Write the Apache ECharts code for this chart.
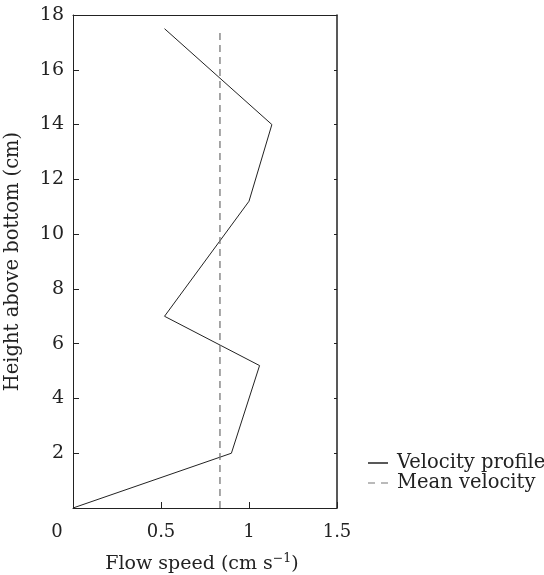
<!DOCTYPE html>
<html>
<head>
<meta charset="utf-8">
<script src="https://cdn.jsdelivr.net/npm/echarts@6/dist/echarts.min.js"></script>
<style>html,body{margin:0;padding:0;background:#fff;}#c{width:544px;height:575px;}</style>
</head>
<body>
<div id="c"></div>
<script>
var heights = [0, 2, 5.2, 7, 11.2, 14, 17.5];
var speeds = [0, 0.9, 1.06, 0.52, 1.0, 1.13, 0.52];
var meanVelocity = 0.835;
var meanHeights = [0, 17.5];
var xTicks = [0, 0.5, 1, 1.5];
var yTicks = [2, 4, 6, 8, 10, 12, 14, 16, 18];

var FONT = 'DejaVu Serif';
var profileData = speeds.map(function (s, i) { return [s, heights[i]]; });
var meanData = meanHeights.map(function (h) { return [meanVelocity, h]; });

var chart = echarts.init(document.getElementById('c'));
chart.setOption({
  animation: false,
  backgroundColor: '#fff',
  textStyle: { fontFamily: FONT, color: '#222' },
  grid: { left: 73, right: 207, top: 15, bottom: 67, containLabel: false, outerBoundsMode: 'none' },
  legend: {
    left: 363, top: 448, orient: 'vertical', itemGap: 0,
    itemWidth: 20, itemHeight: 1.5,
    textStyle: { fontFamily: FONT, fontSize: 19.5, color: '#222', lineHeight: 20, padding: [0, 0, 0, 4] },
    data: [
      { name: 'Velocity profile', icon: 'rect', itemStyle: { color: '#222' } },
      { name: 'Mean velocity', icon: 'path://M0,0h7v1h-7zM13,0h7v1h-7z', itemStyle: { color: '#777' } }
    ]
  },
  xAxis: [{
    type: 'value', min: 0, max: 1.5, interval: 0.5,
    name: 'Flow speed (cm s{sup|−1})', nameLocation: 'middle', nameGap: 44,
    nameTextStyle: {
      fontFamily: FONT, fontSize: 19, color: '#222', padding: [0, 6, 0, 0],
      rich: { sup: { fontFamily: FONT, fontSize: 12.5, color: '#222', padding: [0, 0, 12, 0] } }
    },
    axisLine: { show: true, onZero: false, lineStyle: { color: '#222', width: 1 } },
    axisTick: { show: true, inside: true, length: 6, lineStyle: { color: '#222' } },
    axisLabel: { fontFamily: FONT, fontSize: 18, color: '#222', margin: 15,
      formatter: function (v) { return v === 0 ? '{z|0}' : (xTicks.indexOf(v) >= 0 ? String(v) : ''); },
      rich: { z: { fontFamily: FONT, fontSize: 18, color: '#222', padding: [0, 32, 0, 0] } } },
    splitLine: { show: false }
  }, {
    type: 'value', position: 'top', min: 0, max: 1.5, interval: 0.5,
    axisLine: { show: true, onZero: false, lineStyle: { color: '#222', width: 1 } },
    axisTick: { show: false }, axisLabel: { show: false }, splitLine: { show: false }
  }],
  yAxis: [{
    type: 'value', min: 0, max: 18, interval: 2,
    name: 'Height above bottom (cm)', nameLocation: 'middle', nameGap: 50,
    nameTextStyle: { fontFamily: FONT, fontSize: 19.5, color: '#222' },
    axisLine: { show: true, onZero: false, lineStyle: { color: '#222', width: 1 } },
    axisTick: { show: true, inside: true, length: 6, lineStyle: { color: '#222' } },
    axisLabel: { fontFamily: FONT, fontSize: 19, color: '#222', margin: 9,
      formatter: function (v) { return yTicks.indexOf(v) >= 0 ? String(v) : ''; } },
    splitLine: { show: false }
  }, {
    type: 'value', position: 'right', min: 0, max: 18, interval: 2,
    axisLine: { show: true, onZero: false, lineStyle: { color: '#222', width: 1.5 } },
    axisTick: { show: true, inside: true, length: 3, lineStyle: { color: '#222' } },
    axisLabel: { show: false }, splitLine: { show: false }
  }],
  series: [{
    name: 'Velocity profile', type: 'line', data: profileData,
    symbol: 'none', lineStyle: { color: '#222', width: 1 }, itemStyle: { color: '#222' }
  }, {
    name: 'Mean velocity', type: 'line', data: meanData,
    symbol: 'none', lineStyle: { color: '#777', width: 1.3, type: [7, 5] }, itemStyle: { color: '#777' }
  }]
});
</script>
</body>
</html>
